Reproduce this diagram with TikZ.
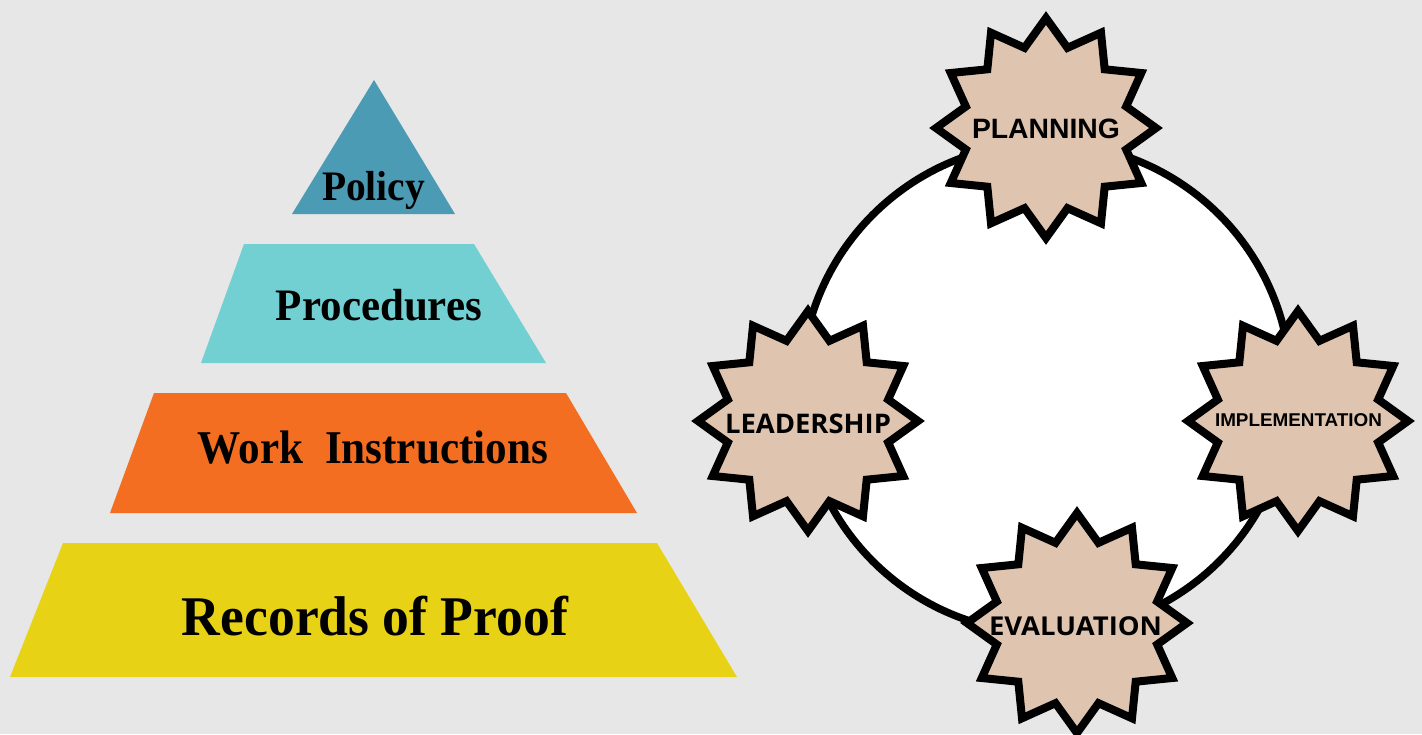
\documentclass[tikz,border=0pt]{standalone}
\usepackage{fontspec}
\setmainfont{Liberation Serif}
\newfontfamily\arialfont{Liberation Sans}
\newfontfamily\opensansfont{Open Sans}
\usepackage{graphicx}
\definecolor{bgcol}{HTML}{E7E7E7}
\definecolor{policycol}{HTML}{4C9BB4}
\definecolor{proccol}{HTML}{72D0D3}
\definecolor{workcol}{HTML}{F46E21}
\definecolor{reccol}{HTML}{E8D216}
\definecolor{starfill}{HTML}{DFC4B0}
\newcommand\drawstarat[1]{%
  \draw[starshape, shift={#1}] (90:110)
    \foreach \i in {0,...,10}{ -- ({105+30*\i}:83) -- ({120+30*\i}:110)} -- (75:83) -- cycle;}
\begin{document}
\begin{tikzpicture}[x=1pt,y=-1pt,
  tierlabel/.style={anchor=base, inner sep=0pt, text=black},
  starshape/.style={draw=black, line width=8pt, fill=starfill, line join=miter, miter limit=10},
  ringstyle/.style={circle, draw=black, line width=7.5pt, fill=white, minimum size=490pt, inner sep=0pt},
  startext/.style={inner sep=0pt, text=black, anchor=center}]
\useasboundingbox (0,0) rectangle (1422,734);
\clip (0,0) rectangle (1422,734);
\fill[bgcol] (0,0) rectangle (1422,734);
% pyramid
\fill[policycol] (374,80) -- (455,214) -- (292,214) -- cycle;
\fill[proccol] (244,244) -- (474,244) -- (546,363) -- (201,363) -- cycle;
\fill[workcol] (154,393) -- (566,393) -- (637,513) -- (110,513) -- cycle;
\fill[reccol] (63,543) -- (657,543) -- (737,677) -- (10,677) -- cycle;
\node[tierlabel] (policy) at (373.5,200) {\resizebox{103pt}{\height}{\fontsize{42}{46}\selectfont\bfseries Policy}};
\node[tierlabel] (procedures) at (379,320) {\resizebox{206pt}{\height}{\fontsize{45}{50}\selectfont\bfseries Procedures}};
\node[tierlabel] (work) at (373,463) {\resizebox{350pt}{\height}{\fontsize{47}{52}\selectfont\bfseries Work\ \ Instructions}};
\node[tierlabel] (records) at (375,635) {\resizebox{386pt}{\height}{\fontsize{56}{60}\selectfont\bfseries Records of Proof}};
% cycle
\node[ringstyle] (ring) at (1046,388) {};
\drawstarat{(1046,128)}
\drawstarat{(808,421)}
\drawstarat{(1298,421)}
\drawstarat{(1077,623)}
\node[startext] (planning) at (1046,129) {\resizebox{148pt}{\height}{\arialfont\fontsize{28}{30}\selectfont\bfseries PLANNING}};
\node[startext] (leadership) at (808,424) {\resizebox{166pt}{\height}{\opensansfont\fontsize{27}{30}\selectfont\bfseries LEADERSHIP}};
\node[startext] (implementation) at (1298.5,420) {\resizebox{167pt}{\height}{\arialfont\fontsize{18.5}{20}\selectfont\bfseries IMPLEMENTATION}};
\node[startext] (evaluation) at (1075.5,626) {\resizebox{173pt}{\height}{\opensansfont\fontsize{26}{29}\selectfont\bfseries EVALUATION}};
\end{tikzpicture}
\end{document}
